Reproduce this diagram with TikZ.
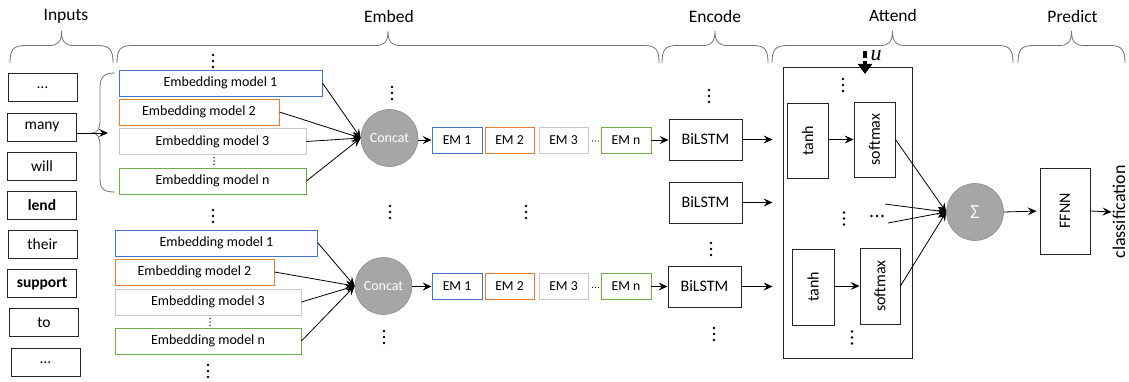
\documentclass[tikz,border=0pt]{standalone}
\usepackage{fontspec}
\setmainfont{Carlito}
\newfontfamily\seriffam{Liberation Serif}
\usetikzlibrary{arrows.meta,calc}
\definecolor{cblue}{HTML}{4472C4}
\definecolor{corange}{HTML}{ED7D31}
\definecolor{cgrayb}{HTML}{C9C9C9}
\definecolor{cgreen}{HTML}{70AD47}
\definecolor{cfill}{HTML}{A6A6A6}
\definecolor{cfilld}{HTML}{8C8C8C}
\definecolor{cline}{HTML}{262626}
\newcommand\mybrace[3]{%
  \draw[bracest] (#1,63) .. controls (#1,50) and (#1+3,45.5) .. (#1+15,45.5) -- (#2-12,45.5)
    .. controls (#2-4,45.5) and (#2,42) .. (#2,31)
    .. controls (#2,42) and (#2+4,45.5) .. (#2+12,45.5) -- (#3-15,45.5)
    .. controls (#3-3,45.5) and (#3,50) .. (#3,63);}
\begin{document}
\begin{tikzpicture}[x=1pt,y=-1pt,
  bracest/.style={draw=black!55, line width=0.8pt},
  title/.style={font=\fontsize{17.5}{20}\selectfont},
  inp/.style={draw=cline, line width=0.9pt, minimum width=69pt, minimum height=28pt, inner sep=0pt, font=\fontsize{15.5}{18}\selectfont},
  emb/.style={draw, line width=0.9pt, minimum height=26pt, inner sep=0pt, font=\fontsize{14}{16}\selectfont},
  em/.style={draw, line width=0.9pt, minimum height=26pt, inner sep=0pt, font=\fontsize{13.7}{16}\selectfont},
  circ/.style={circle, fill=cfill, draw=cfilld, line width=0.6pt, minimum size=57pt, inner sep=0pt, text=white},
  blstm/.style={draw=cline, line width=0.9pt, minimum width=73pt, minimum height=41pt, inner sep=0pt, font=\fontsize{16}{18}\selectfont},
  rbox/.style={draw=cline, line width=0.9pt, inner sep=0pt, rotate=90, font=\fontsize{16}{18}\selectfont},
  arr/.style={-{Stealth[length=9pt,width=8pt,inset=3.5pt]}, line width=0.8pt},
  vd/.pic={\fill (0,-6) circle[radius=1.4pt] (0,0) circle[radius=1.4pt] (0,6) circle[radius=1.4pt];},
  vds/.pic={\fill (0,-3.3) circle[radius=0.75pt] (0,0) circle[radius=0.75pt] (0,3.3) circle[radius=0.75pt];},
  hd/.pic={\fill (-5.5,0) circle[radius=1.3pt] (0,0) circle[radius=1.3pt] (5.5,0) circle[radius=1.3pt];},
  hds/.pic={\fill (-3,0) circle[radius=0.7pt] (0,0) circle[radius=0.7pt] (3,0) circle[radius=0.7pt];}
]
\useasboundingbox (0,0) rectangle (1129,382);

% titles
\node[title] (tin) at (66,16) {Inputs};
\node[title] (tem) at (389,16) {Embed};
\node[title] (ten) at (715,16) {Encode};
\node[title] (tat) at (893,15) {Attend};
\node[title] (tpr) at (1072.5,16) {Predict};

% braces
\mybrace{10}{61.5}{113}
\mybrace{117}{388}{659}
\mybrace{662}{715}{768}
\mybrace{772}{892.5}{1013}
\mybrace{1018}{1071.5}{1125}

% inputs
\node[inp] (in1) at (42.5,87.5) {…};
\node[inp] (in2) at (42,127) {many};
\node[inp] (in3) at (42,166) {will};
\node[inp] (in4) at (42,205) {\textbf{lend}};
\node[inp] (in5) at (42.5,244) {their};
\node[inp] (in6) at (42,283.5) {\textbf{support}};
\node[inp] (in7) at (44,322.5) {to};
\node[inp] (in8) at (45.5,362.5) {…};

% brace for "many"
\draw[bracest] (115,73) .. controls (104,73) and (100,77) .. (100,88) -- (100,121)
  .. controls (100,129) and (97,133) .. (92,133)
  .. controls (97,133) and (100,137) .. (100,145) -- (100,179)
  .. controls (100,189) and (104,192) .. (115,192);
\coordinate (bt) at (108,133);
\draw[arr] (in2.east |- bt) -- (bt);

% embedding models, top group
\node[emb, draw=cblue, minimum width=203pt] (ea1) at (220.5,83) {Embedding model 1};
\node[emb, draw=corange, minimum width=160pt] (ea2) at (199,112) {Embedding model 2};
\node[emb, draw=cgrayb, minimum width=187pt] (ea3) at (212.5,141.5) {Embedding model 3};
\node[emb, draw=cgreen, minimum width=187pt] (ean) at (212.5,181) {Embedding model n};
\pic at (213,61) {vd};
\pic at (214,161) {vds};
\pic at (213,216) {vd};

% embedding models, bottom group
\node[emb, draw=cblue, minimum width=202pt] (eb1) at (216.5,243) {Embedding model 1};
\node[emb, draw=corange, minimum width=159pt] (eb2) at (194.5,272) {Embedding model 2};
\node[emb, draw=cgrayb, minimum width=186pt] (eb3) at (208,302) {Embedding model 3};
\node[emb, draw=cgreen, minimum width=186pt] (ebn) at (208,341) {Embedding model n};
\pic at (210,322) {vds};
\pic at (208,371) {vd};

% concat
\node[circ, font=\fontsize{14}{16}\selectfont] (cc1) at (389.5,138) {Concat};
\node[circ, font=\fontsize{14}{16}\selectfont] (cc2) at (383.5,286) {Concat};
\pic at (392,93) {vd};
\pic at (390,212) {vd};
\pic at (384,337) {vd};
\pic at (526,212) {vd};

\foreach \s in {ea1,ea2,ea3,ean} \draw[arr] (\s.east) -- (cc1.west);
\foreach \s in {eb1,eb2,eb3,ebn} \draw[arr] (\s.east) -- (cc2.west);

% EM rows
\node[em, draw=cblue, minimum width=50pt] (ma1) at (457,140) {EM 1};
\node[em, draw=corange, minimum width=49pt] (ma2) at (509.5,140) {EM 2};
\node[em, draw=cgrayb, minimum width=49pt] (ma3) at (563.5,140) {EM 3};
\node[em, draw=cgreen, minimum width=50pt] (man) at (626,140) {EM n};
\pic at (595.5,141) {hds};
\node[em, draw=cblue, minimum width=50pt] (mb1) at (457,286.5) {EM 1};
\node[em, draw=corange, minimum width=49pt] (mb2) at (509.5,286.5) {EM 2};
\node[em, draw=cgrayb, minimum width=49pt] (mb3) at (563.5,286.5) {EM 3};
\node[em, draw=cgreen, minimum width=50pt] (mbn) at (626,286.5) {EM n};
\pic at (595.5,287.5) {hds};

\draw[arr] (cc1.east |- ma1.west) -- (ma1.west);
\draw[arr] (cc2.east |- mb1.west) -- (mb1.west);

% BiLSTM
\node[blstm] (bl1) at (705.5,139.5) {BiLSTM};
\node[blstm] (bl2) at (705.5,202.5) {BiLSTM};
\node[blstm] (bl3) at (704.5,286.5) {BiLSTM};
\pic at (709,96) {vd};
\pic at (711,249) {vd};
\pic at (714,334) {vd};
\draw[arr] (man.east) -- (bl1.west |- man.east);
\draw[arr] (mbn.east) -- (bl3.west |- mbn.east);

% attention
\node[draw=cline, line width=0.9pt, minimum width=129pt, minimum height=291pt, inner sep=0pt] (att) at (847.5,212.5) {};
\draw[arr, shorten >=10pt] (bl1.east) -- (bl1.east -| att.west);
\draw[arr, shorten >=10pt] (bl2.east) -- (bl2.east -| att.west);
\draw[arr, shorten >=10pt] (bl3.east) -- (bl3.east -| att.west);

% rotated boxes: north = left side, south = right side
\node[rbox, minimum width=75pt, minimum height=41pt] (t1) at (807.5,140.5) {tanh};
\node[rbox, minimum width=75pt, minimum height=41pt] (s1) at (874.5,139.5) {softmax};
\node[rbox, minimum width=76pt, minimum height=42pt] (t2) at (813,287) {tanh};
\node[rbox, minimum width=76pt, minimum height=40pt] (s2) at (880,286) {softmax};
\draw[arr] (t1.south |- s1.center) -- (s1.north);
\draw[arr] (t2.south |- s2.center) -- (s2.north);
\pic at (843,85) {vd};
\pic at (844,218.5) {vd};
\pic at (877,216) {hd};
\pic at (852,337.5) {vd};

% u input
\coordinate (u0) at (865,51);
\coordinate (u1) at (865,74);
\draw[line width=4pt, dash pattern=on 7pt off 3pt, -{Triangle[length=10pt,width=14pt]}] (u0) -- (u1);
\node[font=\fontsize{22}{24}\seriffam\itshape] (ulab) at (876,56) {u};

% sum
\node[circ, font=\fontsize{20}{22}\selectfont] (sg) at (975,212) {Σ};
\coordinate (m1) at (885,204);
\coordinate (m2) at (888,223);
\draw[arr] (s1.south) -- (sg.west);
\draw[arr] (s2.south) -- (sg.west);
\draw[arr] (m1) -- (sg.west);
\draw[arr] (m2) -- (sg.west);

% predict
\node[rbox, minimum width=86pt, minimum height=50pt] (ff) at (1065,211) {FFNN};
\node[rotate=90, inner sep=1pt, font=\fontsize{18}{20}\selectfont] (cls) at (1119,212) {classification};
\draw[arr, shorten >=3pt] (sg.east) -- (ff.north);
\draw[arr] (ff.south) -- (cls.north);
\end{tikzpicture}
\end{document}
